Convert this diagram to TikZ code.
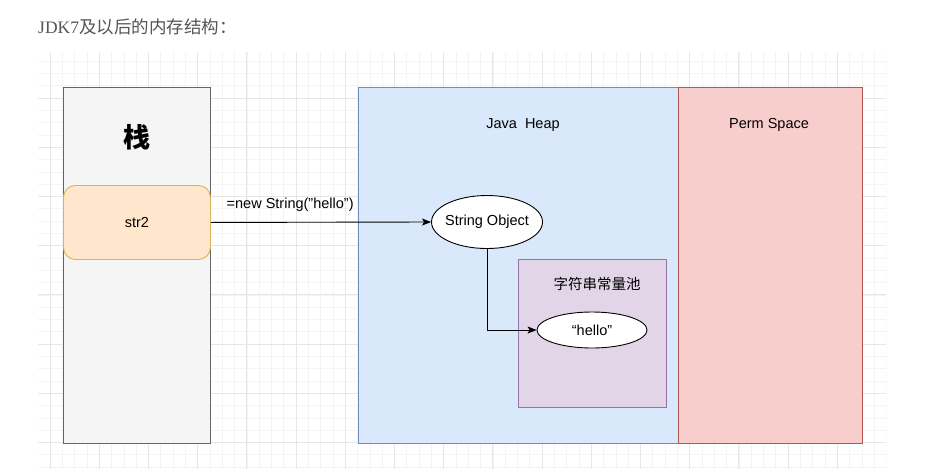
\documentclass[tikz,border=0pt]{standalone}
\usepackage{fontspec}
\setmainfont{Liberation Sans}
\newfontfamily\cjk{Noto Sans CJK SC}
\newfontfamily\serifl{Liberation Serif}
\usetikzlibrary{arrows.meta,shapes.geometric}
\definecolor{gridminor}{HTML}{F4F4F4}
\definecolor{gridmajor}{HTML}{E6E6E6}
\definecolor{stackfill}{HTML}{F5F5F5}
\definecolor{stackline}{HTML}{666666}
\definecolor{orfill}{HTML}{FFE6CC}
\definecolor{orline}{HTML}{D6B656}
\definecolor{heapfill}{HTML}{DAE8FC}
\definecolor{heapline}{HTML}{6C8EBF}
\definecolor{permfill}{HTML}{F8CECC}
\definecolor{permline}{HTML}{B85450}
\definecolor{poolfill}{HTML}{E1D5E7}
\definecolor{poolline}{HTML}{9673A6}
\definecolor{titlegray}{HTML}{555555}
\tikzset{
  region/.style={draw, line width=0.9pt, inner sep=0pt, anchor=north west},
  lbl/.style={font=\fontsize{14.5}{16}\selectfont, inner sep=1pt},
  ell/.style={ellipse, draw=black, fill=white, line width=0.9pt, inner ysep=0pt, inner xsep=-4pt, font=\fontsize{14.5}{16}\selectfont},
  conn/.style={draw=black, line width=0.9pt, -{Stealth[length=9pt,width=7pt,inset=2pt]}},
}
\begin{document}
\begin{tikzpicture}[x=1pt,y=-1pt]
\useasboundingbox (0,0) rectangle (933,469);
\fill[white] (0,0) rectangle (933,469);
% grid
\begin{scope}
\clip (38,52) rectangle (886,469);
\foreach \i in {-4,...,70} {
  \draw[gridminor, line width=0.6pt] ({50+12.3*\i},52) -- ({50+12.3*\i},469);
}
\foreach \i in {-4,...,40} {
  \draw[gridminor, line width=0.6pt] (38,{98+12.3*\i}) -- (886,{98+12.3*\i});
}
\foreach \i in {0,...,17} {
  \draw[gridmajor, line width=0.8pt] ({50+49.2*\i},52) -- ({50+49.2*\i},469);
}
\foreach \i in {-1,...,8} {
  \draw[gridmajor, line width=0.8pt] (38,{98+49.2*\i}) -- (886,{98+49.2*\i});
}
\end{scope}
% title
\node[anchor=west, text=titlegray, inner sep=0pt, font=\fontsize{17.5}{20}\selectfont] (title) at (38,27) {\serifl JDK7\cjk 及以后的内存结构：};
% stack
\node[region, draw=stackline, fill=stackfill, minimum width=147pt, minimum height=356pt] (stack) at (63,87) {};
\node[font=\cjk\bfseries\fontsize{27}{29}\selectfont, inner sep=0pt] (stacklbl) at (137,137) {栈};
\node[draw=orline, fill=orfill, line width=0.9pt, rounded corners=12pt, minimum width=147pt, minimum height=74pt, inner sep=0pt, anchor=north west, font=\fontsize{14.5}{16}\selectfont] (str2) at (63,185) {str2};
% heap
\node[region, draw=heapline, fill=heapfill, minimum width=320pt, minimum height=356pt] (heap) at (358,87) {};
\node[lbl] (heaplbl) at (523,125) {Java\ \ Heap};
% perm
\node[region, draw=permline, fill=permfill, minimum width=184pt, minimum height=356pt] (perm) at (678,87) {};
\node[lbl] (permlbl) at (769,125) {Perm Space};
% pool
\node[region, draw=poolline, fill=poolfill, minimum width=148pt, minimum height=148pt] (pool) at (518,259) {};
\node[font=\cjk\fontsize{14.5}{16}\selectfont, inner sep=0pt] (poollbl) at (597,284) {字符串常量池};
% ellipses
\node[ell, minimum width=111pt, minimum height=53pt] (so) at (487,222) {String Object};
\node[ell, minimum width=110pt, minimum height=36pt] (hello) at (592,330) {“hello”};
% connectors
\draw[conn] (str2.east) -- node[above=10pt, pos=0.36, font=\fontsize{14.5}{16}\selectfont, inner sep=0pt] (newlbl) {=new String(\symbol{34}hello\symbol{34})} (so.west);
\draw[conn] (so.south) |- (hello.west);
\end{tikzpicture}
\end{document}
